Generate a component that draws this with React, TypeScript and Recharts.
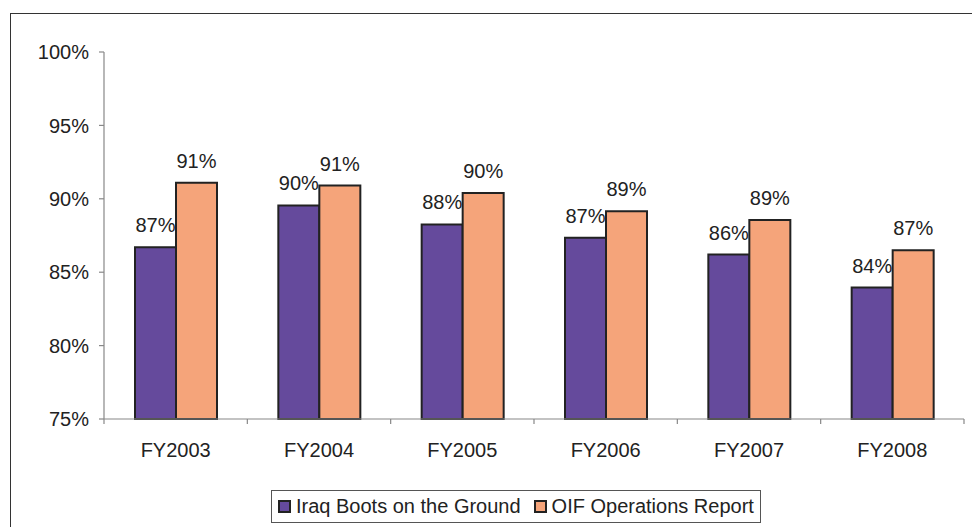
import { BarChart, Bar, XAxis, YAxis, LabelList } from "recharts";

const years = ["FY2003", "FY2004", "FY2005", "FY2006", "FY2007", "FY2008"];
const bootsOnGround = [86.7, 89.55, 88.25, 87.35, 86.2, 83.95];
const oifReport = [91.1, 90.9, 90.4, 89.15, 88.55, 86.5];
const yTicks = [75, 80, 85, 90, 95, 100];

const data = years.map((year, i) => ({
  year,
  boots: bootsOnGround[i],
  oif: oifReport[i],
}));

const PURPLE = "#654a9c";
const ORANGE = "#f5a47a";
const FONT = "'Liberation Sans', Arial, sans-serif";

function CategoryTick(props: any) {
  const { x, y, payload, index } = props;
  const half = payload && payload.offset ? payload.offset : 860 / 12;
  return (
    <g>
      <line x1={x - half} x2={x - half} y1={y} y2={y + 5} stroke="#888" strokeWidth={1.2} />
      {index === years.length - 1 && (
        <line x1={x + half} x2={x + half} y1={y} y2={y + 5} stroke="#888" strokeWidth={1.2} />
      )}
      <text x={x} y={y + 38} textAnchor="middle" fontSize={20} fill="#222" fontFamily={FONT}>
        {payload.value}
      </text>
    </g>
  );
}

// legend drawn as a plain box under the plot
function LegendBox() {
  const items = [
    { label: "Iraq Boots on the Ground", color: PURPLE },
    { label: "OIF Operations Report", color: ORANGE },
  ];
  return (
    <div
      style={{
        position: "absolute",
        left: 271,
        top: 490,
        width: 482,
        height: 31,
        border: "1px solid #555",
        display: "flex",
        alignItems: "center",
        paddingLeft: 6,
        boxSizing: "content-box",
        fontFamily: FONT,
        fontSize: 20,
        color: "#222",
        whiteSpace: "nowrap",
        background: "#fff",
      }}
    >
      {items.map((it) => (
        <span key={it.label} style={{ display: "flex", alignItems: "center", marginRight: 13 }}>
          <span
            style={{
              width: 9,
              height: 9,
              background: it.color,
              border: "2px solid #222",
              marginRight: 5,
              display: "inline-block",
            }}
          />
          {it.label}
        </span>
      ))}
    </div>
  );
}

export default function App() {
  return (
    <div
      style={{
        position: "fixed",
        left: 0,
        top: 0,
        width: 972,
        height: 527,
        overflow: "hidden",
        background: "#fff",
      }}
    >
      <div
        style={{
          position: "absolute",
          left: 10,
          top: 13,
          width: 1000,
          height: 600,
          border: "1.5px solid #333",
        }}
      />
      <div style={{ position: "absolute", left: 0, top: 0 }}>
        <BarChart
          width={972}
          height={527}
          data={data}
          margin={{ top: 52, right: 8, left: 0, bottom: 78 }}
          barCategoryGap="21%"
          barGap={0}
        >
          <XAxis
            dataKey="year"
            tickLine={false}
            tickSize={0}
            tickMargin={0}
            axisLine={{ stroke: "#888", strokeWidth: 1.2 }}
            tick={<CategoryTick />}
            height={30}
            interval={0}
          />
          <YAxis
            type="number"
            domain={[75, 100]}
            ticks={yTicks}
            width={104}
            tickSize={5}
            tickMargin={10}
            tickFormatter={(v: number) => `${v}%`}
            axisLine={{ stroke: "#888", strokeWidth: 1.2 }}
            tickLine={{ stroke: "#888", strokeWidth: 1.2 }}
            tick={{ fontSize: 20, fill: "#222", fontFamily: FONT }}
          />
          <Bar dataKey="boots" name="Iraq Boots on the Ground" fill={PURPLE} stroke="#222" strokeWidth={2} barSize={41} isAnimationActive={false}>
            <LabelList
              dataKey="boots"
              position="top"
              offset={15}
              formatter={(v: number) => `${Math.round(v)}%`}
              style={{ fontSize: 20, fill: "#222", fontFamily: FONT }}
            />
          </Bar>
          <Bar dataKey="oif" name="OIF Operations Report" fill={ORANGE} stroke="#222" strokeWidth={2} barSize={41} isAnimationActive={false}>
            <LabelList
              dataKey="oif"
              position="top"
              offset={15}
              formatter={(v: number) => `${Math.round(v)}%`}
              style={{ fontSize: 20, fill: "#222", fontFamily: FONT }}
            />
          </Bar>
        </BarChart>
      </div>
      <LegendBox />
    </div>
  );
}
